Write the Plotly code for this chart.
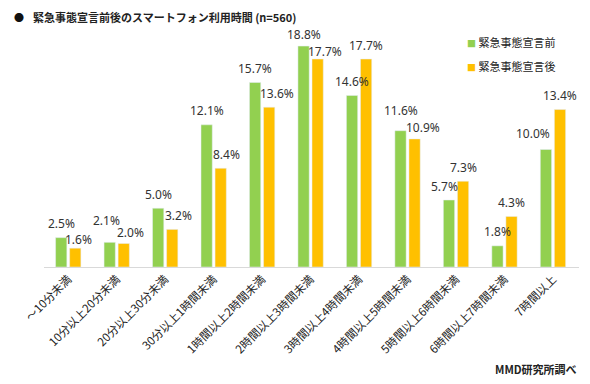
import plotly.graph_objects as go

categories = ["～10分未満", "10分以上20分未満", "20分以上30分未満", "30分以上1時間未満",
              "1時間以上2時間未満", "2時間以上3時間未満", "3時間以上4時間未満",
              "4時間以上5時間未満", "5時間以上6時間未満", "6時間以上7時間未満", "7時間以上"]
before = [2.5, 2.1, 5.0, 12.1, 15.7, 18.8, 14.6, 11.6, 5.7, 1.8, 10.0]
after = [1.6, 2.0, 3.2, 8.4, 13.6, 17.7, 17.7, 10.9, 7.3, 4.3, 13.4]
series_names = ["緊急事態宣言前", "緊急事態宣言後"]

# label nudges (pixels), mimicking the hand-placed labels of the original
before_dx = [0, -3, 0, 0, 0, 0, 0, 0, -5, 0, -13]
before_dy = [0, 8, 0, 0, 0, -2, 0, 6, 0, 0, 2]
after_dx = [3, 7, 6, 6, 8, 7, 0, 8, 0, 0, 0]
after_dy = [-5, -3, 0, 0, 0, -6, 0, -3, 0, 0, 0]

GREEN = "#92D050"
ORANGE = "#FFC000"
FONT = "Noto Sans CJK JP"
LABEL_FONT = "Noto Sans, Noto Sans CJK JP"
BARGAP = 0.42
GROUPGAP = 0.2

fig = go.Figure()
fig.add_trace(go.Bar(x=categories, y=before, name=series_names[0], marker_color=GREEN,
                     hoverinfo="x+y"))
fig.add_trace(go.Bar(x=categories, y=after, name=series_names[1], marker_color=ORANGE,
                     hoverinfo="x+y"))

# the page body adds an 8px margin, so the figure is 8px smaller than the window
fig.update_layout(
    width=582, height=376,
    margin=dict(l=36, r=11, t=24, b=117),
    paper_bgcolor="white", plot_bgcolor="white",
    font=dict(family=FONT, size=11, color="#222222"),
    barmode="group", bargap=BARGAP, bargroupgap=GROUPGAP,
    showlegend=False,
)
fig.update_xaxes(tickangle=-45, showline=True, linecolor="#D9D9D9", linewidth=1,
                 ticks="", tickfont=dict(size=11.5, color="#222222"), fixedrange=True,
                 automargin=False)
fig.update_yaxes(range=[0, 20], visible=False, showgrid=False, fixedrange=True,
                 automargin=False)

# data labels, anchored at each bar's centre / top through the axes
half = (1 - BARGAP) / 4
for vals, dxs, dys, sign in [(before, before_dx, before_dy, -1), (after, after_dx, after_dy, 1)]:
    for i, v in enumerate(vals):
        fig.add_annotation(x=i + sign * half, y=v, xref="x", yref="y",
                           text=f"{v:.1f}%", showarrow=False,
                           xanchor="center", yanchor="middle",
                           xshift=dxs[i], yshift=14 + dys[i],
                           font=dict(size=12, color="#333333", family=LABEL_FONT))

# legend (top right)
for k, (nm, col) in enumerate(zip(series_names, [GREEN, ORANGE])):
    fig.add_annotation(text=f"<span style='color:{col};font-size:9px'>■</span> {nm}",
                       xref="paper", yref="paper", x=1, y=1, xshift=-114, yshift=-10 - 24 * k,
                       xanchor="left", yanchor="middle", showarrow=False,
                       font=dict(size=11, color="#222222", family=FONT))

fig.add_annotation(text="<b>●</b>", xref="paper", yref="paper", x=0, y=1,
                   xshift=-25, yshift=15, xanchor="center", yanchor="middle", showarrow=False,
                   font=dict(size=10, color="#111111", family=FONT))
fig.add_annotation(text="<b>緊急事態宣言前後のスマートフォン利用時間 (n=560)</b>",
                   xref="paper", yref="paper", x=0, y=1, xshift=-13, yshift=15,
                   xanchor="left", yanchor="middle", showarrow=False,
                   font=dict(size=11, color="#222222", family=FONT))
fig.add_annotation(text="<b>MMD研究所調べ</b>", xref="paper", yref="paper",
                   x=1, y=0, xshift=0, yshift=-102, xanchor="right", yanchor="middle",
                   showarrow=False, font=dict(size=11, color="#222222", family=FONT))

fig.write_html("out.html")
